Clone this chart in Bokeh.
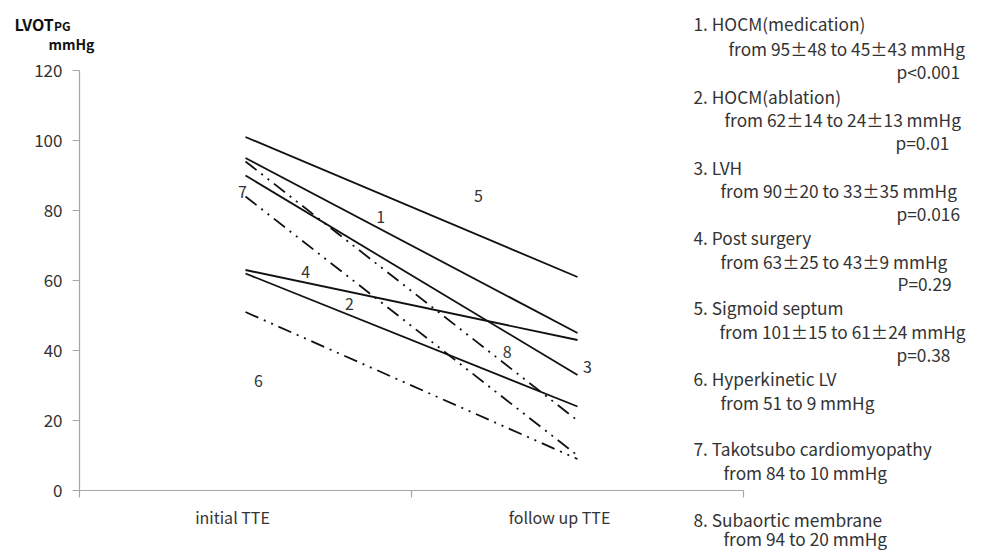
from bokeh.plotting import figure
from bokeh.models import Range1d, FixedTicker, Label
from bokeh.embed import file_html
from bokeh.resources import INLINE

# ---------------- data ----------------
categories = ["initial TTE", "follow up TTE"]
series_ids = ["1", "2", "3", "4", "5", "6", "7", "8"]
initial_pg = [95, 62, 90, 63, 101, 51, 84, 94]
follow_up_pg = [45, 24, 33, 43, 61, 9, 10, 20]
series_style = ["solid", "solid", "solid", "solid", "solid", "dashdotdot", "dashdotdot", "dashdotdot"]
y_ticks = [0, 20, 40, 60, 80, 100, 120]

legend_texts = [
    ["1. HOCM(medication)", "from 95\u00b148 to 45\u00b143 mmHg", "p<0.001"],
    ["2. HOCM(ablation)", "from 62\u00b114 to 24\u00b113 mmHg", "p=0.01"],
    ["3. LVH", "from 90\u00b120 to 33\u00b135 mmHg", "p=0.016"],
    ["4. Post surgery", "from 63\u00b125 to 43\u00b19 mmHg", "P=0.29"],
    ["5. Sigmoid septum", "from 101\u00b115 to 61\u00b124 mmHg", "p=0.38"],
    ["6. Hyperkinetic LV", "from 51 to 9 mmHg"],
    ["7. Takotsubo cardiomyopathy", "from 84 to 10 mmHg"],
    ["8. Subaortic membrane", "from 94 to 20 mmHg"],
]

# ---------------- layout / style ----------------
FONT = "Noto Sans CJK JP"
TXT = "#333333"
AXIS = "#a6a6a6"
W, H = 986, 551
# plot area of the chart in canvas pixels
AX_LEFT, AX_RIGHT, AX_TOP, AX_BOTTOM = 79, 743, 70, 490
N_CAT = len(categories)
YMIN, YMAX = y_ticks[0], y_ticks[-1]
sx = (AX_RIGHT - AX_LEFT) / N_CAT          # px per x unit
sy = (AX_BOTTOM - AX_TOP) / (YMAX - YMIN)  # px per y unit

def px_to_data(px, py):
    return (px - AX_LEFT) / sx, YMIN + (AX_BOTTOM - py) / sy

x_start, y_end = px_to_data(0, 0)
x_end, y_start = px_to_data(W, H)

p = figure(width=W, height=H, output_backend="svg", toolbar_location=None,
           x_range=Range1d(x_start, x_end), y_range=Range1d(y_start, y_end),
           min_border=0, min_border_left=0, min_border_right=0,
           min_border_top=0, min_border_bottom=0)
p.outline_line_color = None
p.xgrid.visible = False
p.ygrid.visible = False
p.background_fill_color = "white"
p.border_fill_color = "white"

# x axis: categories in the middle of each band, ticks at band edges
cat_pos = [i + 0.5 for i in range(N_CAT)]
cat_label_shift_px = [-13, -18]            # the labels sit slightly left of the band centres
cat_label_pos = [c + s / sx for c, s in zip(cat_pos, cat_label_shift_px)]
p.xaxis.fixed_location = YMIN
p.xaxis.bounds = (0, N_CAT)
p.xaxis.ticker = FixedTicker(ticks=cat_label_pos, minor_ticks=[i for i in range(N_CAT + 1)])
p.xaxis.major_label_overrides = {c: lab for c, lab in zip(cat_label_pos, categories)}
p.xaxis.major_tick_line_color = None
p.xaxis.major_tick_out = 0
p.xaxis.major_tick_in = 0
p.xaxis.minor_tick_line_color = AXIS
p.xaxis.minor_tick_out = 7
p.xaxis.minor_tick_in = 0
p.xaxis.axis_line_color = AXIS
p.xaxis.axis_line_width = 1.2
p.xaxis.minor_tick_line_width = 1.2
p.xaxis.major_label_standoff = 7
p.xaxis.major_label_text_font = FONT
p.xaxis.major_label_text_font_size = "16px"
p.xaxis.major_label_text_color = TXT

p.yaxis.fixed_location = 0
p.yaxis.bounds = (YMIN, YMAX)
p.yaxis.ticker = FixedTicker(ticks=y_ticks, minor_ticks=[])
p.yaxis.major_tick_line_color = AXIS
p.yaxis.major_tick_line_width = 1.2
p.yaxis.major_tick_out = 7
p.yaxis.major_tick_in = 0
p.yaxis.minor_tick_line_color = None
p.yaxis.axis_line_color = AXIS
p.yaxis.axis_line_width = 1.2
p.yaxis.major_label_standoff = 10
p.yaxis.major_label_text_font = FONT
p.yaxis.major_label_text_font_size = "17px"
p.yaxis.major_label_text_color = TXT

# lines
DASHES = {"solid": "solid", "dashdotdot": "14 6 2 6 2 6"}
for v0, v1, st in zip(initial_pg, follow_up_pg, series_style):
    p.line(x=cat_pos, y=[v0, v1], line_color="#111111", line_width=1.8,
           line_dash=DASHES[st])

# series number labels: fraction along the line and lift (in value units)
label_t = [0.407, 0.313, 1.03, 0.181, 0.702, 0.039, -0.009, 0.788]
label_lift = [3.4, 3.2, 3.9, 3.0, 11.1, -18.2, 0.7, 3.8]
for sid, v0, v1, t, d in zip(series_ids, initial_pg, follow_up_pg, label_t, label_lift):
    x = cat_pos[0] + t * (cat_pos[1] - cat_pos[0])
    y = v0 + (v1 - v0) * t + d
    p.add_layout(Label(x=x, y=y, text=sid, text_align="center", text_baseline="middle",
                       text_font=FONT, text_font_size="16px", text_color=TXT))

# y axis title (PG in small capitals)
for txt, px, py, size in [("LVOT", 14, 23, "16px"), ("PG", 53.5, 24.5, "12px"), ("mmHg", 48, 43, "14px")]:
    x, y = px_to_data(px, py)
    p.add_layout(Label(x=x, y=y, text=txt, text_align="left", text_baseline="middle",
                       text_font=FONT, text_font_style="bold", text_font_size=size,
                       text_color="#111111"))

# legend-like annotation text on the right
row_y = [[23, 48, 71], [96, 119, 142], [167, 190, 213], [237, 261, 283],
         [307, 331, 354], [378, 402], [448, 472], [519, 538]]
indent_x = [[693, 728, 896], [693, 724, 895], [693, 720, 896], [693, 720, 897],
            [693, 719, 896], [693, 720], [693, 723], [693, 723]]
for texts, ys, xs in zip(legend_texts, row_y, indent_x):
    for txt, py, px in zip(texts, ys, xs):
        x, y = px_to_data(px, py)
        p.add_layout(Label(x=x, y=y, text=txt, text_align="left", text_baseline="middle",
                           text_font=FONT, text_font_size="17.3px", text_color=TXT))

open("out.html", "w").write(file_html(p, INLINE))
